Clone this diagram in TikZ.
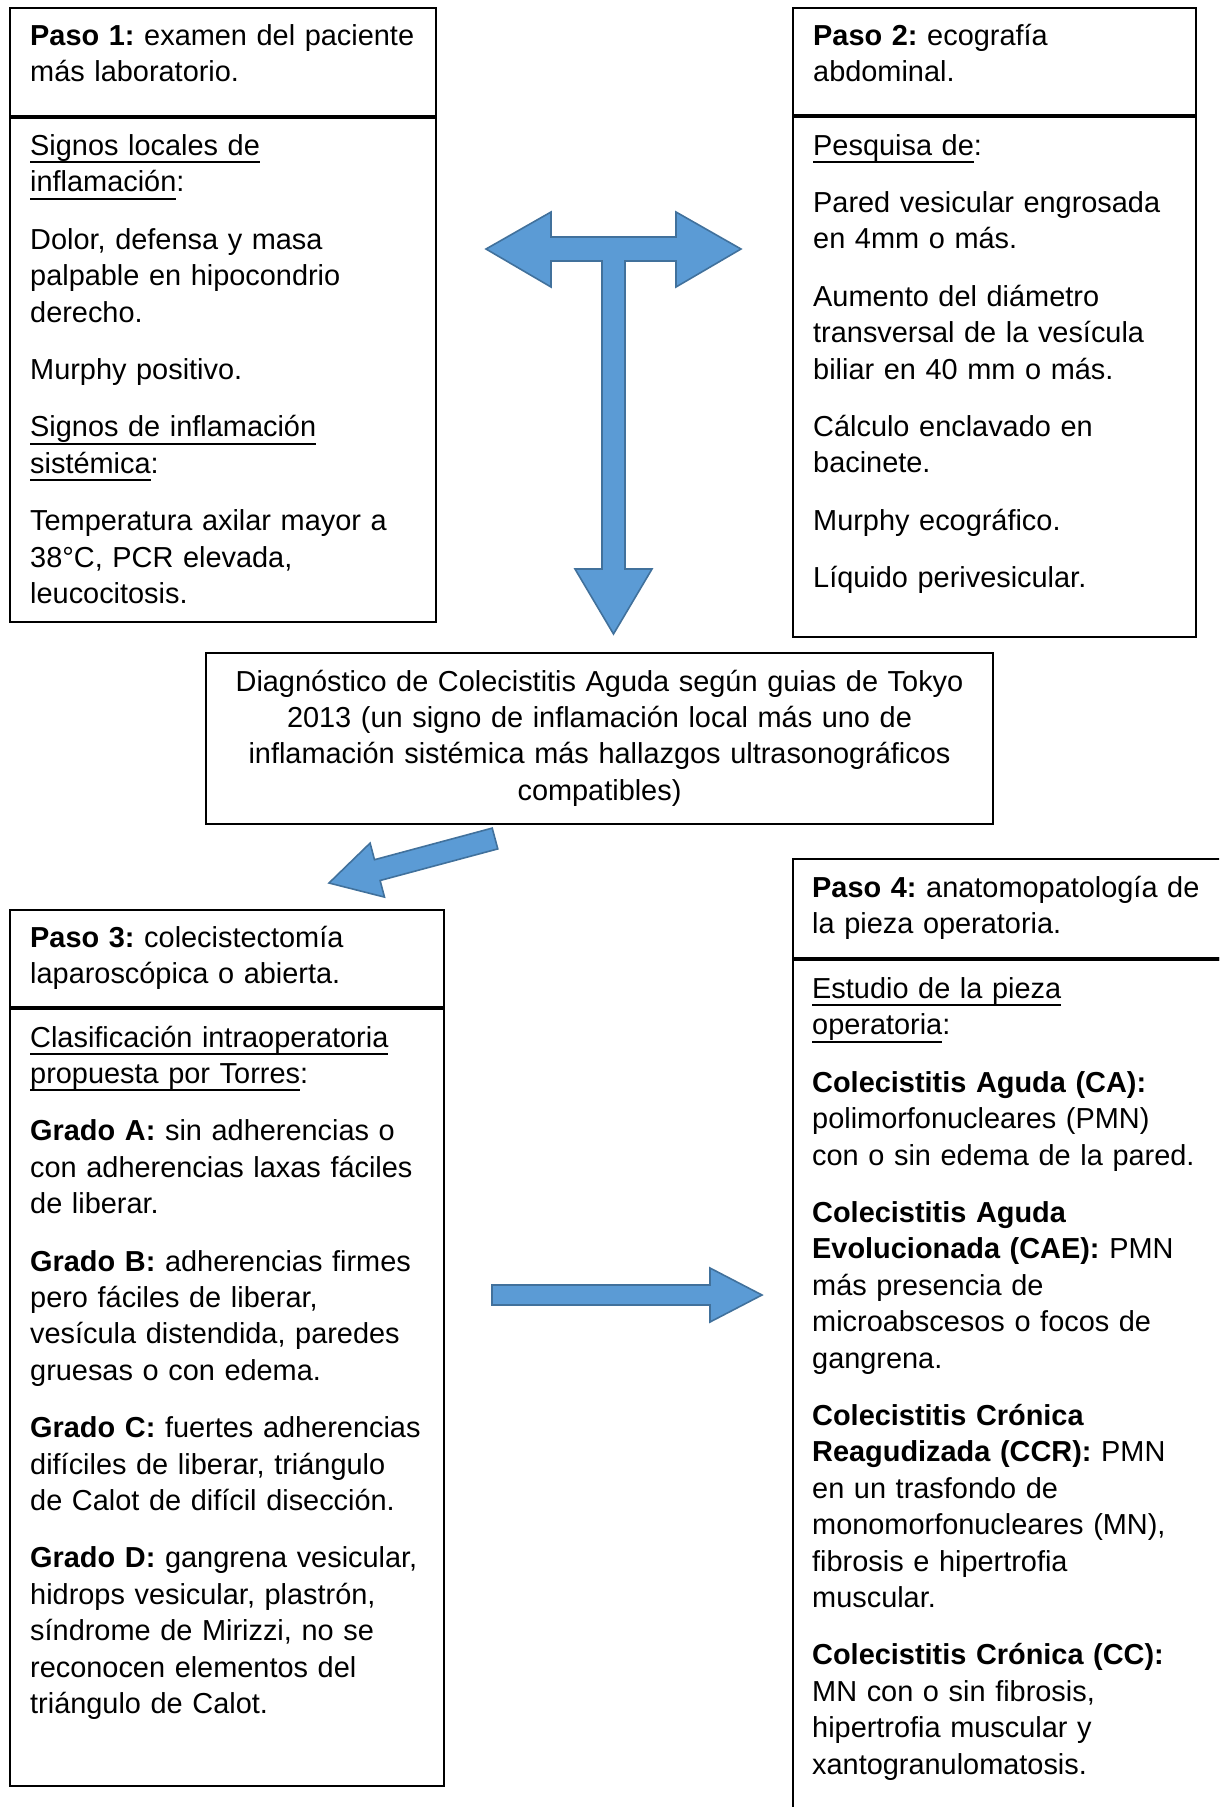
\documentclass[tikz,border=0pt]{standalone}
\usepackage{fontspec}
\setmainfont{Liberation Sans}
\frenchspacing
\definecolor{arrowfill}{HTML}{5B9BD5}
\definecolor{arrowline}{HTML}{41719C}
\newcommand{\boxfont}{\fontsize{28.9}{36.4}\selectfont}
\newcommand{\ulword}[1]{\leavevmode\setbox0\hbox{#1}\rlap{\rule[-7.6pt]{\wd0}{1.9pt}}\box0}
\begin{document}
\begin{tikzpicture}[x=1pt,y=-1pt,
frame/.style={draw=black,line width=2pt,inner sep=0pt,anchor=north west},
txt/.style={anchor=base west,inner sep=0pt,text width=430pt,align=left,font=\boxfont},
blockarrow/.style={fill=arrowfill,draw=arrowline,line width=1.6pt,line join=miter}]

\useasboundingbox (0,0) rectangle (1219,1807);
\clip (0,0) rectangle (1219,1807);

\node[frame,minimum width=426pt,minimum height=107.5pt] (paso1) at (9,7) {};
\node[frame,minimum width=426pt,minimum height=504.5pt] (signos1) at (paso1.south west) {};
\node[frame,minimum width=403pt,minimum height=107pt] (paso2) at (792,7) {};
\node[frame,minimum width=403pt,minimum height=520pt] (pesquisa2) at (paso2.south west) {};
\node[frame,minimum width=787pt,minimum height=171pt] (diag) at (205,652) {};
\node[frame,minimum width=434pt,minimum height=97pt] (paso3) at (9,909) {};
\node[frame,minimum width=434pt,minimum height=777pt] (grados3) at (paso3.south west) {};
\node[frame,minimum width=450pt,minimum height=99pt] (paso4) at (792,858) {};
\node[frame,minimum width=450pt,minimum height=880pt] (estudio4) at (paso4.south west) {};
\draw[line width=3.5pt] (paso4.south west) -- (paso4.south east);

\node[txt] (paso1txt) at ([shift={(21,38)}]paso1.north west)
  {\textbf{Paso 1:} examen del paciente\\más laboratorio.};
\node[txt] (signos1txt) at ([shift={(21,39)}]signos1.north west)
  {\ulword{Signos locales de}\\\ulword{inflamación}:\\[21pt]
   Dolor, defensa y masa\\palpable en hipocondrio\\derecho.\\[21pt]
   Murphy positivo.\\[21pt]
   \ulword{Signos de inflamación}\\\ulword{sistémica}:\\[21pt]
   Temperatura axilar mayor a\\38°C, PCR elevada,\\leucocitosis.};

\node[txt] (paso2txt) at ([shift={(21,38)}]paso2.north west)
  {\textbf{Paso 2:} ecografía\\abdominal.};
\node[txt] (pesquisa2txt) at ([shift={(21,39)}]pesquisa2.north west)
  {\ulword{Pesquisa de}:\\[21pt]
   Pared vesicular engrosada\\en 4mm o más.\\[21pt]
   Aumento del diámetro\\transversal de la vesícula\\biliar en 40 mm o más.\\[21pt]
   Cálculo enclavado en\\bacinete.\\[21pt]
   Murphy ecográfico.\\[21pt]
   Líquido perivesicular.};

\node[anchor=base,inner sep=0pt,text width=787pt,align=center,font=\boxfont] (diagtxt)
  at ([shift={(0,39)}]diag.north)
  {Diagnóstico de Colecistitis Aguda según guias de Tokyo\\
   2013 (un signo de inflamación local más uno de\\
   inflamación sistémica más hallazgos ultrasonográficos\\
   compatibles)};

\node[txt] (paso3txt) at ([shift={(21,38)}]paso3.north west)
  {\textbf{Paso 3:} colecistectomía\\laparoscópica o abierta.};
\node[txt] (grados3txt) at ([shift={(21,39)}]grados3.north west)
  {\ulword{Clasificación intraoperatoria}\\\ulword{propuesta por Torres}:\\[21pt]
   \textbf{Grado A:} sin adherencias o\\con adherencias laxas fáciles\\de liberar.\\[21pt]
   \textbf{Grado B:} adherencias firmes\\pero fáciles de liberar,\\vesícula distendida, paredes\\gruesas o con edema.\\[21pt]
   \textbf{Grado C:} fuertes adherencias\\difíciles de liberar, triángulo\\de Calot de difícil disección.\\[21pt]
   \textbf{Grado D:} gangrena vesicular,\\hidrops vesicular, plastrón,\\síndrome de Mirizzi, no se\\reconocen elementos del\\triángulo de Calot.};

\node[txt] (paso4txt) at ([shift={(20,39)}]paso4.north west)
  {\textbf{Paso 4:} anatomopatología de\\la pieza operatoria.};
\node[txt] (estudio4txt) at ([shift={(20,39.5)}]estudio4.north west)
  {\ulword{Estudio de la pieza}\\\ulword{operatoria}:\\[21pt]
   \textbf{Colecistitis Aguda (CA):}\\polimorfonucleares (PMN)\\con o sin edema de la pared.\\[21pt]
   \textbf{Colecistitis Aguda}\\\textbf{Evolucionada (CAE):} PMN\\más presencia de\\microabscesos o focos de\\gangrena.\\[21pt]
   \textbf{Colecistitis Crónica}\\\textbf{Reagudizada (CCR):} PMN\\en un trasfondo de\\monomorfonucleares (MN),\\fibrosis e hipertrofia\\muscular.\\[21pt]
   \textbf{Colecistitis Crónica (CC):}\\MN con o sin fibrosis,\\hipertrofia muscular y\\xantogranulomatosis.};

\draw[blockarrow] (486,249) -- (551,212) -- (551,237) -- (676,237) -- (676,212) -- (741,249)
  -- (676,287) -- (676,261) -- (625,261) -- (625,569) -- (652,569) -- (613.5,634)
  -- (575,569) -- (602,569) -- (602,261) -- (551,261) -- (551,287) -- cycle;
\draw[blockarrow] (492.2,828.1) -- (374.5,859.7) -- (370.1,843.1) -- (329,883)
  -- (384.5,897.1) -- (380.1,880.5) -- (497.8,848.9) -- cycle;
\draw[blockarrow] (492,1285) -- (710,1285) -- (710,1268) -- (762,1295)
  -- (710,1322) -- (710,1305) -- (492,1305) -- cycle;

\end{tikzpicture}
\end{document}
